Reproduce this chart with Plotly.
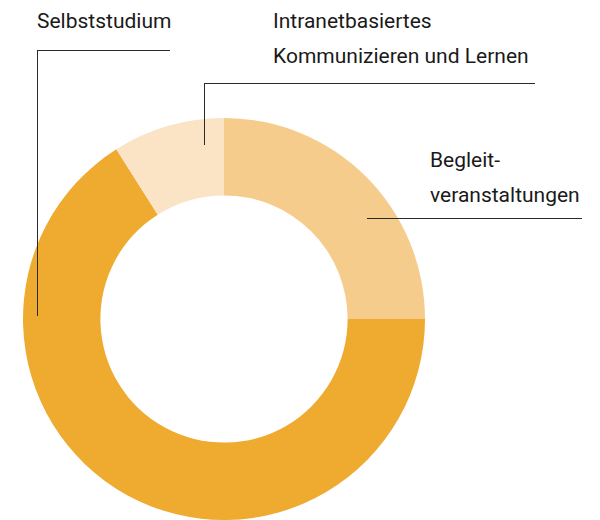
import plotly.graph_objects as go

labels = ["Begleitveranstaltungen", "Selbststudium", "Intranetbasiertes Kommunizieren und Lernen"]
values = [25, 66, 9]
colors = ["#F5CC8B", "#EEAB2F", "#FAE4C5"]

W, H = 600, 520

def px(x):
    return x / W

def py(y):
    return 1 - y / H

fig = go.Figure(go.Pie(
    labels=labels, values=values, sort=False, direction="clockwise", rotation=0,
    hole=0.615, textinfo="none", hoverinfo="label+percent",
    marker=dict(colors=colors, line=dict(width=0)),
    domain=dict(x=[px(23), px(425)], y=[py(520), py(118)]),
    showlegend=False,
))

font = dict(family="Roboto, Open Sans, sans-serif", size=21, weight=400, color="#1a1a1a")

texts = [
    ("Selbststudium", 35, 21),
    ("Intranetbasiertes", 271, 21),
    ("Kommunizieren und Lernen", 271, 56),
    ("Begleit-", 428, 160),
    ("veranstaltungen", 428, 195),
]
for t, x, y in texts:
    fig.add_annotation(text=t, x=px(x), y=py(y), xref="paper", yref="paper",
                       xanchor="left", yanchor="middle", showarrow=False, font=font)

lines = [
    (37, 50.5, 170, 50.5), (37.5, 50, 37.5, 316),
    (204, 83.5, 535, 83.5), (204.5, 83, 204.5, 145),
    (367, 218.5, 582, 218.5),
]
for x0, y0, x1, y1 in lines:
    fig.add_shape(type="line", xref="paper", yref="paper",
                  x0=px(x0), y0=py(y0), x1=px(x1), y1=py(y1),
                  line=dict(color="#2a2a2a", width=1))

fig.update_layout(width=W, height=H, margin=dict(l=0, r=0, t=0, b=0),
                  paper_bgcolor="white", plot_bgcolor="white")
fig.write_html("out.html", config={"displayModeBar": False},
               post_script="document.body.style.margin='0';")
